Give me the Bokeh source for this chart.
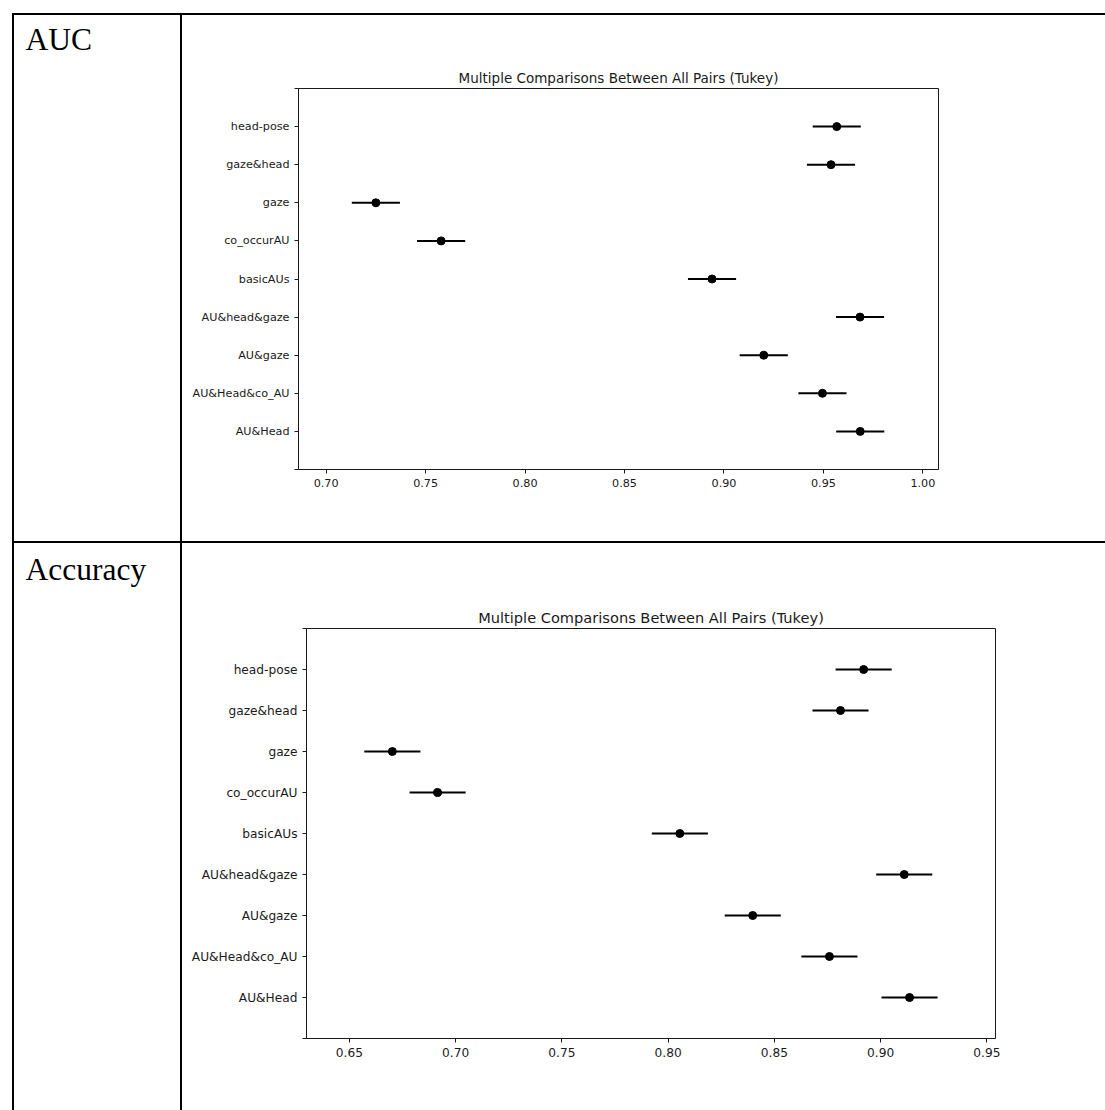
from bokeh.plotting import figure
from bokeh.layouts import row, column
from bokeh.models import (Range1d, FixedTicker, PrintfTickFormatter, Label,
                          ColumnDataSource, Spacer)
from bokeh.embed import file_html
from bokeh.resources import INLINE

# Groups in Tukey order (bottom to top)
groups = ["AU&Head", "AU&Head&co_AU", "AU&gaze", "AU&head&gaze", "basicAUs",
          "co_occurAU", "gaze", "gaze&head", "head-pose"]

# AUC: group means and simultaneous-interval half width
auc_means = [0.9685, 0.9495, 0.9200, 0.9684, 0.8940, 0.7578, 0.7250, 0.9538, 0.9567]
auc_halfwidth = 0.0121
auc_xticks = [0.70, 0.75, 0.80, 0.85, 0.90, 0.95, 1.00]

# Accuracy: group means and simultaneous-interval half width
acc_means = [0.9136, 0.8759, 0.8398, 0.9111, 0.8055, 0.6915, 0.6702, 0.8811, 0.8920]
acc_halfwidth = 0.0132
acc_xticks = [0.65, 0.70, 0.75, 0.80, 0.85, 0.90, 0.95]

TITLE = "Multiple Comparisons Between All Pairs (Tukey)"
FONT = "DejaVu Sans"
INK = "#1a1a1a"

PAGE_W = 1105
LEFT_MARGIN = 12
TOP_MARGIN = 13
RULE = 2
LABEL_W = 166
CHART_W = PAGE_W - LEFT_MARGIN - RULE - LABEL_W - RULE  # 923
ROW1_H = 526
ROW2_H = 567


def rule(width, height):
    return Spacer(width=width, height=height, styles={"background-color": "black"})


def no_frame_align(p):
    # keep each cell's frame independent of its neighbours in the row
    if "frame_align" in p.properties():
        p.frame_align = False
    return p


def label_cell(text, height, baseline):
    # frame fills the whole cell: one data unit per pixel, origin bottom-left
    p = figure(width=LABEL_W, height=height, output_backend="svg",
               toolbar_location=None, min_border=0, title=None,
               x_axis_type=None, y_axis_type=None,
               x_range=Range1d(0, LABEL_W), y_range=Range1d(0, height))
    no_frame_align(p)
    p.grid.visible = False
    p.outline_line_color = None
    p.add_layout(Label(x=11, y=height - baseline, text=text,
                       text_font="Liberation Serif", text_font_size="31.5px",
                       text_color="black", text_baseline="alphabetic"))
    return p


def tukey_chart(means, halfwidth, xticks, x_start, x_end, height,
                mb_left, mb_right, mb_top, mb_bottom, tick_px, title_px):
    p = figure(width=CHART_W, height=height, output_backend="svg",
               toolbar_location=None,
               x_range=Range1d(x_start, x_end),
               y_range=Range1d(-1, len(groups)),
               min_border_left=mb_left, min_border_right=mb_right,
               min_border_top=mb_top, min_border_bottom=mb_bottom,
               title=TITLE)
    no_frame_align(p)
    p.title.align = "center"
    p.title.text_font = FONT
    p.title.text_font_style = "normal"
    p.title.text_font_size = title_px
    p.title.text_color = INK
    p.title.standoff = 6

    p.grid.visible = False
    p.outline_line_color = INK
    p.outline_line_width = 1

    ypos = list(range(len(groups)))
    src = ColumnDataSource(dict(
        y=ypos, m=means,
        lo=[m - halfwidth for m in means],
        hi=[m + halfwidth for m in means],
    ))
    p.segment(x0="lo", x1="hi", y0="y", y1="y", source=src,
              line_color="black", line_width=2)
    p.scatter(x="m", y="y", source=src, size=8, marker="circle",
              fill_color="black", line_color="black")

    p.xaxis.ticker = FixedTicker(ticks=xticks)
    p.xaxis.formatter = PrintfTickFormatter(format="%.2f")
    p.yaxis.ticker = FixedTicker(ticks=list(range(-1, len(groups) + 1)))
    overrides = {i: g for i, g in enumerate(groups)}
    overrides[-1] = ""
    overrides[len(groups)] = ""
    p.yaxis.major_label_overrides = overrides

    for ax in (p.xaxis, p.yaxis):
        ax.axis_line_color = INK
        ax.axis_line_width = 1
        ax.major_tick_line_color = INK
        ax.major_tick_out = 4
        ax.major_tick_in = 0
        ax.minor_tick_line_color = None
        ax.major_label_text_font = FONT
        ax.major_label_text_font_size = tick_px
        ax.major_label_text_color = INK
        ax.major_label_standoff = 5
    return p


auc_label = label_cell("AUC", ROW1_H, 24)
auc_chart = tukey_chart(auc_means, auc_halfwidth, auc_xticks, 0.6861, 1.00785,
                        ROW1_H, 116, 167, 73, 72, "11.2px", "13.5px")

acc_label = label_cell("Accuracy", ROW2_H, 26)
acc_chart = tukey_chart(acc_means, acc_halfwidth, acc_xticks, 0.6298, 0.95405,
                        ROW2_H, 124, 110, 85, 72, "12.2px", "14.6px")

line_w = PAGE_W - LEFT_MARGIN

layout = column(
    Spacer(width=PAGE_W, height=TOP_MARGIN),
    row(Spacer(width=LEFT_MARGIN, height=RULE), rule(line_w, RULE)),
    row(Spacer(width=LEFT_MARGIN, height=ROW1_H), rule(RULE, ROW1_H), auc_label,
        rule(RULE, ROW1_H), auc_chart),
    row(Spacer(width=LEFT_MARGIN, height=RULE), rule(line_w, RULE)),
    row(Spacer(width=LEFT_MARGIN, height=ROW2_H), rule(RULE, ROW2_H), acc_label,
        rule(RULE, ROW2_H), acc_chart),
)

open("out.html", "w").write(file_html(layout, INLINE))
